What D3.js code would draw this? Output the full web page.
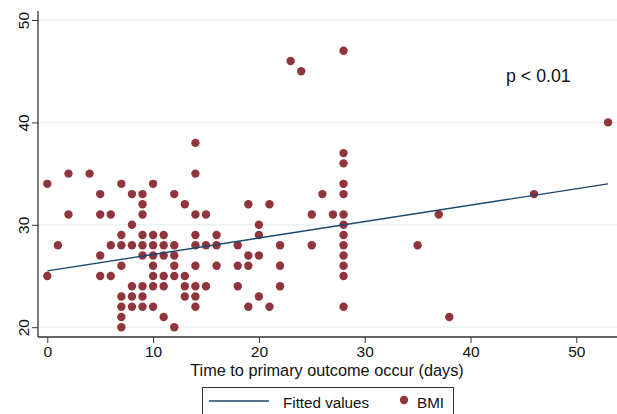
<!DOCTYPE html>
<html>
<head>
<meta charset="utf-8">
<script src="https://cdnjs.cloudflare.com/ajax/libs/d3/7.8.5/d3.min.js"></script>
<style>
  body { margin: 0; background: #fff; }
  svg { display: block; font-family: "Liberation Sans", Arial, sans-serif; }
</style>
</head>
<body>
<div id="chart"></div>
<script>
// days to outcome and BMI, one entry per dot
var days = [
  0, 0,
  1,
  2, 2,
  4,
  5, 5, 5, 5,
  6, 6, 6,
  7, 7, 7, 7, 7, 7, 7, 7,
  8, 8, 8, 8, 8, 8,
  9, 9, 9, 9, 9, 9, 9, 9, 9,
  10, 10, 10, 10, 10, 10, 10, 10,
  11, 11, 11, 11, 11, 11,
  12, 12, 12, 12, 12, 12,
  13, 13, 13, 13,
  14, 14, 14, 14, 14, 14, 14, 14, 14,
  15, 15, 15,
  16, 16, 16,
  18, 18, 18,
  19, 19, 19, 19,
  20, 20, 20, 20,
  21, 21,
  22, 22, 22,
  23,
  24,
  25, 25,
  26,
  27,
  28, 28, 28, 28, 28, 28, 28, 28, 28, 28, 28, 28, 28,
  35, 37, 38, 46, 53
];
var bmi = [
  34, 25,
  28,
  35, 31,
  35,
  33, 31, 27, 25,
  31, 28, 25,
  34, 29, 28, 26, 23, 22, 21, 20,
  33, 30, 28, 24, 23, 22,
  33, 32, 31, 29, 28, 27, 24, 23, 22,
  34, 29, 28, 27, 26, 25, 24, 22,
  29, 28, 27, 25, 24, 21,
  33, 28, 27, 26, 25, 20,
  32, 25, 24, 23,
  38, 35, 31, 29, 28, 26, 24, 23, 22,
  31, 28, 24,
  29, 28, 26,
  28, 26, 24,
  32, 27, 26, 22,
  30, 29, 27, 23,
  32, 22,
  28, 26, 24,
  46,
  45,
  31, 28,
  33,
  31,
  47, 37, 36, 34, 33, 31, 30, 29, 28, 27, 26, 25, 22,
  28, 31, 21, 33, 40
];
// fitted line end points
var fitDays = [0, 53];
var fitBmi = [25.5, 34.0];

var xTicks = [0, 10, 20, 30, 40, 50];
var yTicks = [20, 30, 40, 50];

var W = 617, H = 414;
var dotColor = "#90353b", lineColor = "#1a476f", gridColor = "#e6eff1";

var svg = d3.select("#chart")
  .append("svg")
    .attr("width", W)
    .attr("height", H);

var x = d3.scaleLinear().domain([0, 50]).range([47.3, 576.3]);
var y = d3.scaleLinear().domain([20, 50]).range([327.2, 20]);

var axisX = 38, axisY = 337;

// grid
svg.append("g")
  .selectAll("line")
  .data(yTicks)
  .enter()
  .append("line")
    .attr("x1", axisX)
    .attr("x2", W)
    .attr("y1", function(d) { return y(d); })
    .attr("y2", function(d) { return y(d); })
    .attr("stroke", gridColor)
    .attr("stroke-width", 1.2);

// axes
var gx = svg.append("g")
  .attr("transform", "translate(0," + axisY + ")")
  .call(d3.axisBottom(x).tickValues(xTicks).tickSize(6).tickPadding(3));
gx.select(".domain").remove();
gx.selectAll(".tick line").attr("stroke", "#333");
gx.selectAll("text").style("font-size", "15.5px").attr("fill", "#111");

var gy = svg.append("g")
  .attr("transform", "translate(" + axisX + ",0)")
  .call(d3.axisLeft(y).tickValues(yTicks).tickSize(6).tickPadding(4));
gy.select(".domain").remove();
gy.selectAll(".tick line").attr("stroke", "#333");
gy.selectAll("text")
  .style("font-size", "15.5px")
  .attr("fill", "#111")
  .attr("text-anchor", "middle")
  .attr("transform", "translate(-14,0) rotate(-90)")
  .attr("x", 0)
  .attr("dy", "0.35em");

svg.append("line")
  .attr("x1", axisX).attr("x2", axisX)
  .attr("y1", 11).attr("y2", axisY)
  .attr("stroke", "#333").attr("stroke-width", 1.3);
svg.append("line")
  .attr("x1", axisX).attr("x2", W)
  .attr("y1", axisY).attr("y2", axisY)
  .attr("stroke", "#333").attr("stroke-width", 1.3);

// dots
svg.append("g")
  .selectAll("circle")
  .data(days)
  .enter()
  .append("circle")
    .attr("cx", function(d) { return x(d); })
    .attr("cy", function(d, i) { return y(bmi[i]); })
    .attr("r", 4.2)
    .attr("fill", dotColor);

// fitted values
var line = d3.line()
  .x(function(d) { return x(d); })
  .y(function(d, i) { return y(fitBmi[i]); });
svg.append("path")
  .datum(fitDays)
  .attr("d", line)
  .attr("fill", "none")
  .attr("stroke", lineColor)
  .attr("stroke-width", 1.4);

svg.append("text")
  .attr("x", 506)
  .attr("y", 82)
  .style("font-size", "17.8px")
  .attr("fill", "#111")
  .text("p < 0.01");

svg.append("text")
  .attr("x", 327)
  .attr("y", 376)
  .attr("text-anchor", "middle")
  .style("font-size", "16.3px")
  .attr("fill", "#111")
  .text("Time to primary outcome occur (days)");

// legend
var lg = svg.append("g");
lg.append("rect")
  .attr("x", 202.5).attr("y", 387.5)
  .attr("width", 251).attr("height", 40)
  .attr("fill", "#fff")
  .attr("stroke", "#333");
lg.append("line")
  .attr("x1", 209).attr("x2", 269)
  .attr("y1", 401).attr("y2", 401)
  .attr("stroke", lineColor).attr("stroke-width", 1.4);
lg.append("text")
  .attr("x", 283).attr("y", 408)
  .style("font-size", "15.2px")
  .attr("fill", "#111")
  .text("Fitted values");
lg.append("circle")
  .attr("cx", 404).attr("cy", 400)
  .attr("r", 4.2)
  .attr("fill", dotColor);
lg.append("text")
  .attr("x", 417).attr("y", 408)
  .style("font-size", "15.2px")
  .attr("fill", "#111")
  .text("BMI");
</script>
</body>
</html>
